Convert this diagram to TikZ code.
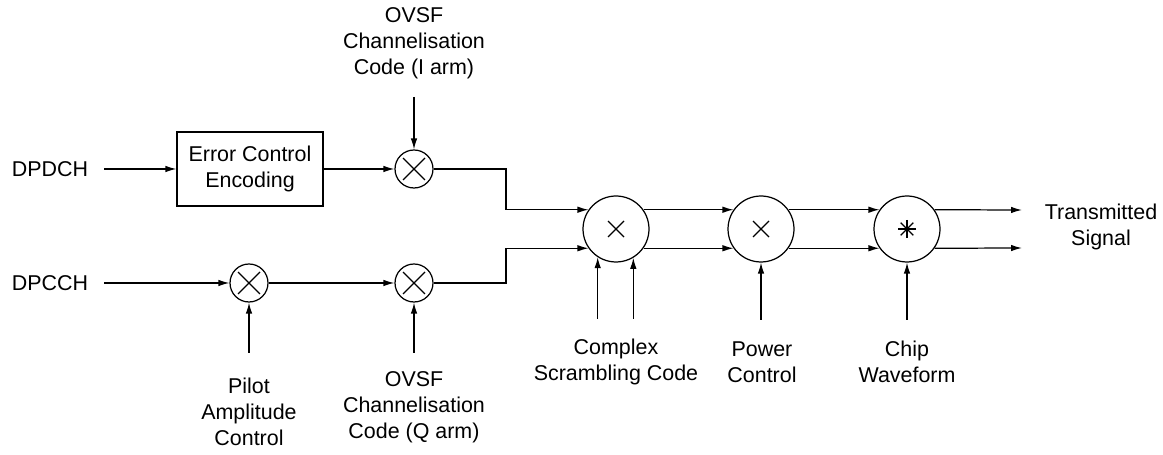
\documentclass[tikz,border=0pt]{standalone}
\usepackage{fontspec}
\setmainfont{Liberation Sans}
\usetikzlibrary{arrows.meta}

\begin{document}
\begin{tikzpicture}[x=0.02cm,y=-0.02cm,line width=0.7pt,>={Latex[length=2.2mm,width=1.3mm]},
  font=\fontsize{12.2}{14.8}\selectfont,
  every node/.append style={align=center},
  box/.style={draw,minimum width=2.92cm,minimum height=1.48cm,inner sep=2pt},
  mix/.style={circle,draw,minimum size=0.76cm,inner sep=0pt,
    path picture={\draw (path picture bounding box.center) +(-0.22cm,-0.22cm) -- +(0.22cm,0.22cm)
      +(-0.22cm,0.22cm) -- +(0.22cm,-0.22cm);}},
  bigmul/.style={circle,draw,minimum size=1.32cm,inner sep=0pt,
    path picture={\draw (path picture bounding box.center) +(-0.16cm,-0.16cm) -- +(0.16cm,0.16cm)
      +(-0.16cm,0.16cm) -- +(0.16cm,-0.16cm);}},
  conv/.style={circle,draw,minimum size=1.32cm,inner sep=0pt,
    path picture={\foreach \a in {0,45,90,135}
      \draw (path picture bounding box.center) +(\a:0.18cm) -- +(\a+180:0.18cm);}}]
  \useasboundingbox (0,0) rectangle (1163,455);
  % canal de datos
  \node (dpdch) at (50,169) {DPDCH};
  \node[box] (enc) at (250,169) {Error Control\\Encoding};
  \node[mix] (m1) at (414,169) {};
  \node (ovi) at (414,43) {OVSF\\Channelisation\\Code (I arm)};
  \coordinate (oi) at (414,97);
  % canal de control
  \node (dpcch) at (50,283) {DPCCH};
  \node[mix] (mp) at (249,283) {};
  \node[mix] (m2) at (414,283) {};
  \coordinate (pa) at (249,353);
  \coordinate (oq) at (414,353);
  \node (pal) at (249,412) {Pilot\\Amplitude\\Control};
  \node (ovq) at (414,407) {OVSF\\Channelisation\\Code (Q arm)};
  % bloques I/Q
  \node[bigmul] (cs) at (616,229) {};
  \node[bigmul] (pc) at (761,229) {};
  \node[conv] (cw) at (907,229) {};
  \coordinate (j1) at (506,169);
  \coordinate (j2) at (506,283);
  \coordinate (sc1) at (cs.237 |- 0,319);
  \coordinate (sc2) at (cs.301 |- 0,319);
  \coordinate (pw) at (761,320);
  \coordinate (ch) at (907,320);
  \node (csl) at (616,362) {Complex\\Scrambling Code};
  \node (pcl) at (762,362) {Power\\Control};
  \node (cwl) at (907,362) {Chip\\Waveform};
  \coordinate (t1) at (1022,210);
  \coordinate (t2) at (1022,248);
  \node (ts) at (1101,227) {Transmitted\\Signal};

  \draw[->,shorten <=5.5pt] (dpdch) -- (enc);
  \draw[->] (enc) -- (m1);
  \draw[->] (oi) -- (m1);
  \draw[->,shorten <=5.5pt] (dpcch) -- (mp);
  \draw[->] (mp) -- (m2);
  \draw[->] (pa) -- (mp);
  \draw[->] (oq) -- (m2);
  \draw[->] (m1) -- (j1) |- (cs.145);
  \draw[->] (m2) -- (j2) |- (cs.215);
  \draw[->] (sc1) -- (cs.237);
  \draw[->] (sc2) -- (cs.301);
  \draw[->] (cs.35) -- (pc.145);
  \draw[->] (cs.-35) -- (pc.-145);
  \draw[->] (pw) -- (pc);
  \draw[->] (pc.35) -- (cw.145);
  \draw[->] (pc.-35) -- (cw.-145);
  \draw[->] (ch) -- (cw);
  \draw[->] (cw.35) -- (t1);
  \draw[->] (cw.-35) -- (t2);
\end{tikzpicture}
\end{document}
